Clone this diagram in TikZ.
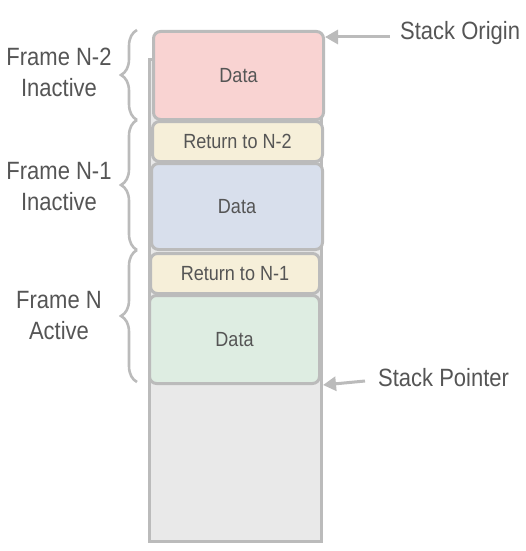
\documentclass[tikz,border=0pt]{standalone}
\usepackage{fontspec}
\setmainfont[FakeStretch=0.88]{Liberation Sans}
\usetikzlibrary{decorations.pathreplacing,arrows.meta}
\definecolor{edge}{HTML}{BBBBBB}
\definecolor{txt}{HTML}{555555}
\definecolor{redf}{HTML}{F9D3D2}
\definecolor{creamf}{HTML}{F6EFD9}
\definecolor{bluef}{HTML}{D8DFEC}
\definecolor{greenf}{HTML}{DEEDE2}
\definecolor{grayf}{HTML}{E9E9E9}
\tikzset{
  cell/.style={draw=edge, line width=3pt, rounded corners=7pt, inner sep=0pt, anchor=north west, text=txt, font=\fontsize{20.5}{22}\selectfont},
  lab/.style={text=txt, font=\fontsize{25}{31}\selectfont, align=center},
  arr/.style={draw=edge, line width=3pt, -{Triangle[length=13pt,width=14pt]}},
  br/.style={draw=edge, line width=2.6pt, decorate, decoration={brace, amplitude=16pt, aspect=0.5}}
}
\begin{document}
\begin{tikzpicture}[x=1pt,y=-1pt]
\useasboundingbox (0,0) rectangle (526,551);
\node[draw=edge, fill=grayf, line width=3pt, minimum width=172pt, minimum height=482pt, anchor=north west, inner sep=0pt] (col) at (148,58) {};
\node[cell, fill=redf, minimum width=170pt, minimum height=88pt] (red) at (152,30) {Data};
\node[cell, fill=creamf, minimum width=170pt, minimum height=40pt] (ret2) at (151,120) {Return to N-2};
\node[cell, fill=bluef, minimum width=171pt, minimum height=86pt] (blue) at (150,162) {Data};
\node[cell, fill=creamf, minimum width=169pt, minimum height=40pt] (ret1) at (149,252) {Return to N-1};
\node[cell, fill=greenf, minimum width=170pt, minimum height=88pt] (green) at (148,294) {Data};
\node[lab] (f2) at (59,72) {Frame N-2\\Inactive};
\node[lab] (f1) at (59,187) {Frame N-1\\Inactive};
\node[lab] (f0) at (59,316) {Frame N\\Active};
\node[lab, anchor=west, inner sep=0pt] (so) at (400,33) {Stack Origin};
\node[lab, anchor=west, inner sep=0pt] (sp) at (378,378) {Stack Pointer};
\draw[br] (137,120) -- (137,30);
\draw[br] (137,250) -- (137,120);
\draw[br] (137,382) -- (137,250);
\draw[arr] ([xshift=-10pt,yshift=-4pt]so.west) -- ([yshift=-7pt]red.north east);
\draw[arr] ([xshift=-13pt,yshift=-3pt]sp.west) -- ([xshift=2pt]green.south east);
\end{tikzpicture}
\end{document}
